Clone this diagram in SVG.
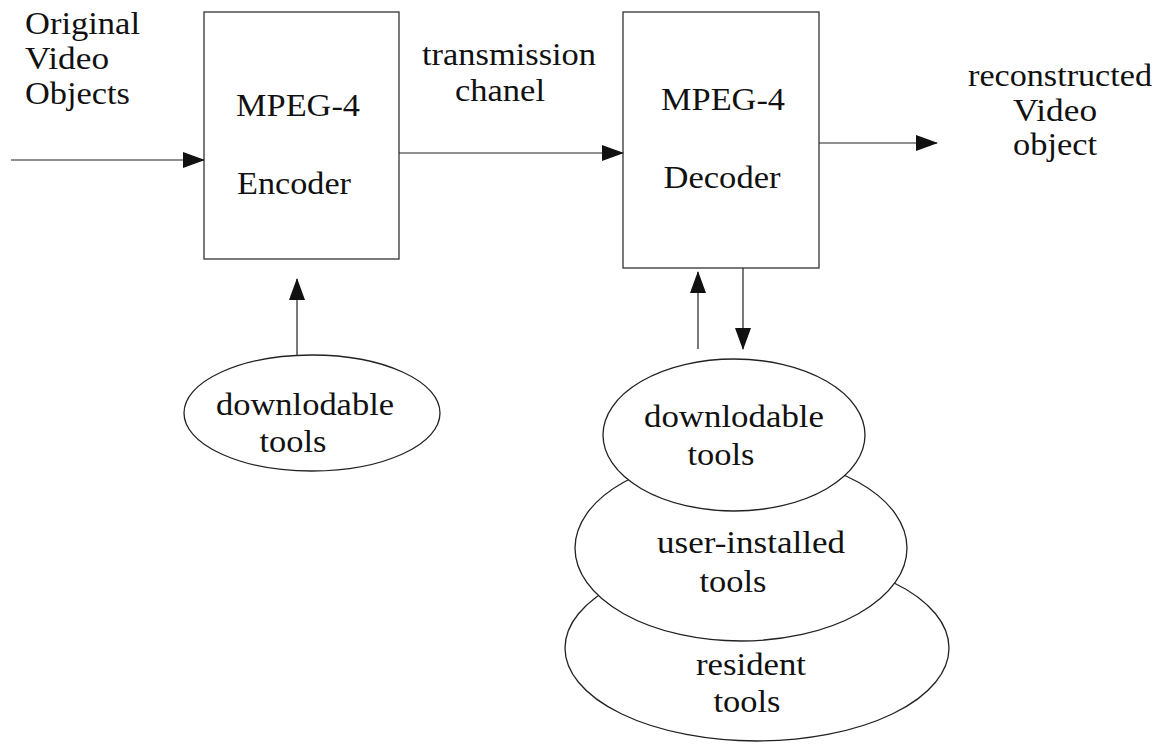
<svg xmlns="http://www.w3.org/2000/svg" width="1169" height="751" viewBox="0 0 1169 751">
<style>
  .t { font-family: 'Liberation Serif', 'Times New Roman', serif; font-size: 32px; fill: #111; }
  .c { text-anchor: middle; }
  .box { fill: #fff; stroke: #333; stroke-width: 1.3; }
  .ell { fill: #fff; stroke: #222; stroke-width: 1.3; }
  .conn line { stroke: #222; stroke-width: 1.2; marker-end: url(#arr); }
</style>
<defs>
  <marker id="arr" markerUnits="userSpaceOnUse" markerWidth="22" markerHeight="16" refX="21" refY="8" orient="auto">
    <path d="M0,0 L22,8 L0,16 z" fill="#111"/>
  </marker>
</defs>
<rect width="1169" height="751" fill="#fff"/>

<g id="input-label" class="t">
  <text x="25" y="34" textLength="115" lengthAdjust="spacingAndGlyphs">Original</text>
  <text x="25" y="69" textLength="84" lengthAdjust="spacingAndGlyphs">Video</text>
  <text x="25" y="104" textLength="105" lengthAdjust="spacingAndGlyphs">Objects</text>
</g>

<g id="encoder" class="t">
  <rect class="box" x="204" y="12" width="195" height="247"/>
  <text class="c" x="298" y="116" textLength="124" lengthAdjust="spacingAndGlyphs">MPEG-4</text>
  <text class="c" x="294" y="194" textLength="114" lengthAdjust="spacingAndGlyphs">Encoder</text>
</g>

<g id="channel-label" class="t">
  <text class="c" x="509" y="65" textLength="174" lengthAdjust="spacingAndGlyphs">transmission</text>
  <text class="c" x="500" y="101" textLength="90" lengthAdjust="spacingAndGlyphs">chanel</text>
</g>

<g id="decoder" class="t">
  <rect class="box" x="623" y="12" width="196" height="256"/>
  <text class="c" x="723" y="110" textLength="124" lengthAdjust="spacingAndGlyphs">MPEG-4</text>
  <text class="c" x="722" y="188" textLength="117" lengthAdjust="spacingAndGlyphs">Decoder</text>
</g>

<g id="output-label" class="t">
  <text class="c" x="1060" y="86" textLength="184" lengthAdjust="spacingAndGlyphs">reconstructed</text>
  <text class="c" x="1055" y="121" textLength="84" lengthAdjust="spacingAndGlyphs">Video</text>
  <text class="c" x="1055" y="155" textLength="84" lengthAdjust="spacingAndGlyphs">object</text>
</g>

<g id="encoder-tools" class="t">
  <ellipse class="ell" cx="312" cy="413" rx="128" ry="58"/>
  <text class="c" x="305" y="415" textLength="178" lengthAdjust="spacingAndGlyphs">downlodable</text>
  <text class="c" x="293" y="452" textLength="67" lengthAdjust="spacingAndGlyphs">tools</text>
</g>

<g id="resident-tools" class="t">
  <ellipse class="ell" cx="757" cy="648" rx="192" ry="93"/>
  <text class="c" x="751" y="675" textLength="110" lengthAdjust="spacingAndGlyphs">resident</text>
  <text class="c" x="747" y="712" textLength="67" lengthAdjust="spacingAndGlyphs">tools</text>
</g>

<g id="user-installed-tools" class="t">
  <ellipse class="ell" cx="741" cy="548" rx="166" ry="93"/>
  <text class="c" x="751" y="553" textLength="188" lengthAdjust="spacingAndGlyphs">user-installed</text>
  <text class="c" x="733" y="592" textLength="67" lengthAdjust="spacingAndGlyphs">tools</text>
</g>

<g id="decoder-tools" class="t">
  <ellipse class="ell" cx="734" cy="435" rx="131" ry="76"/>
  <text class="c" x="734" y="427" textLength="180" lengthAdjust="spacingAndGlyphs">downlodable</text>
  <text class="c" x="721" y="465" textLength="67" lengthAdjust="spacingAndGlyphs">tools</text>
</g>

<g id="connectors" class="conn">
  <line x1="11" y1="160" x2="204" y2="160"/>
  <line x1="399" y1="153" x2="623" y2="153"/>
  <line x1="819" y1="143" x2="937" y2="143"/>
  <line x1="297" y1="355" x2="297" y2="279"/>
  <line x1="698" y1="349" x2="698" y2="272"/>
  <line x1="743" y1="268" x2="743" y2="349"/>
</g>
</svg>
